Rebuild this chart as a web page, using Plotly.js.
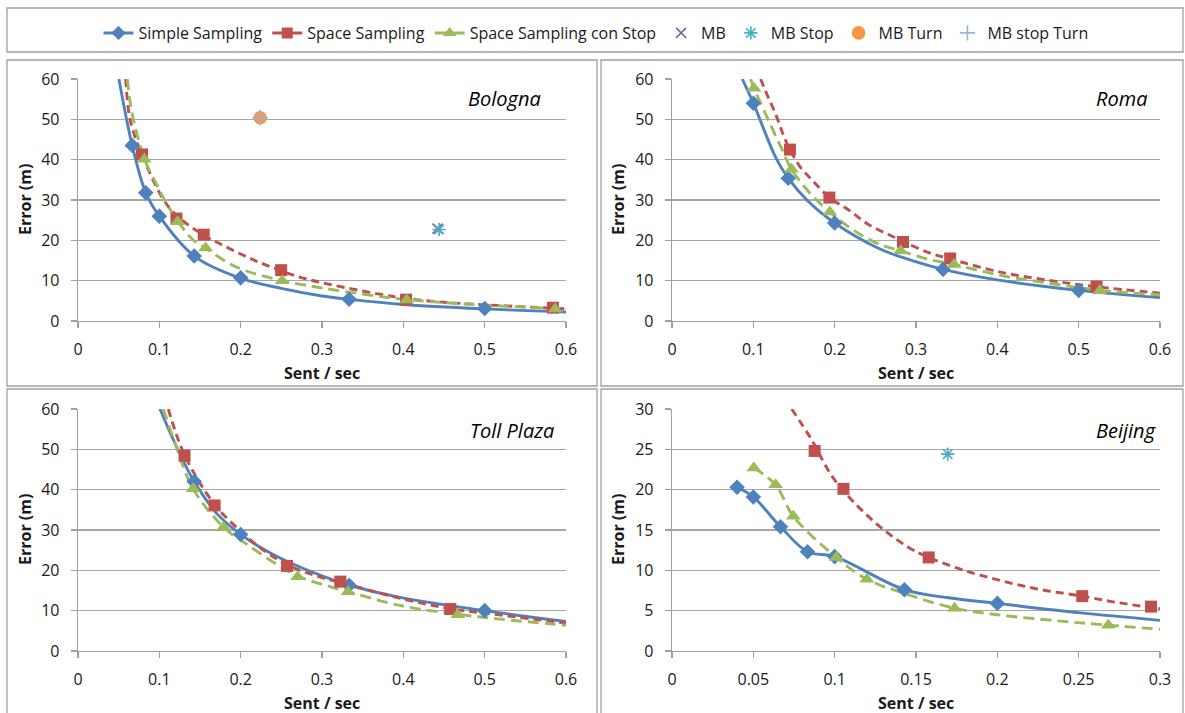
<!DOCTYPE html>
<html><head><meta charset="utf-8">
<script src="https://cdn.plot.ly/plotly-3.0.1.min.js"></script>
<style>html,body{margin:0;padding:0;background:#fff}#chart{width:1185px;height:713px}</style>
</head><body><div id="chart"></div>
<script>
// ---------- Bologna ----------
const bolSimpleX = [0.0667, 0.0833, 0.1, 0.1429, 0.2, 0.3333, 0.5];
const bolSimpleY = [43.5, 31.8, 26.0, 16.1, 10.7, 5.4, 3.1];
const bolSimpleCurveX = [0.0503, 0.0667, 0.0833, 0.1, 0.1429, 0.2, 0.25, 0.3, 0.3333, 0.4, 0.5, 0.6];
const bolSimpleCurveY = [60, 43.5, 31.8, 26.0, 16.1, 10.6, 8.1, 6.2, 5.4, 4.1, 3.0, 2.25];
const bolSpaceX = [0.0787, 0.1211, 0.1546, 0.2498, 0.4034, 0.5839];
const bolSpaceY = [41.3, 25.4, 21.4, 12.6, 5.3, 3.3];
const bolSpaceCurveX = [0.0587, 0.064, 0.078, 0.1054, 0.121, 0.155, 0.174, 0.2033, 0.232, 0.2724, 0.3136, 0.367, 0.403, 0.453, 0.502, 0.56, 0.6];
const bolSpaceCurveY = [60, 50, 41.5, 30, 26.2, 21.2, 19.2, 16.3, 13.8, 10.9, 8.9, 6.8, 5.6, 4.6, 4.0, 3.4, 3.0];
const bolStopX = [0.0815, 0.1225, 0.157, 0.251, 0.404, 0.5867];
const bolStopY = [40.1, 24.6, 18.1, 10.0, 5.2, 3.0];
const bolStopCurveX = [0.0607, 0.066, 0.0815, 0.095, 0.108, 0.1225, 0.141, 0.157, 0.183, 0.207, 0.251, 0.285, 0.3136, 0.367, 0.404, 0.478, 0.5867, 0.6];
const bolStopCurveY = [60, 52, 40.3, 34.5, 29.5, 24.8, 20.2, 18.1, 14.6, 12.4, 10.0, 8.7, 7.75, 6.2, 5.3, 4.2, 3.1, 3.0];
const bolMB = {x: [0.442], y: [22.9]};
const bolMBStop = {x: [0.444], y: [22.7]};
const bolMBTurn = {x: [0.224], y: [50.4]};
const bolMBStopTurn = {x: [0.224], y: [50.4]};

// ---------- Roma ----------
const romaSimpleX = [0.1, 0.1429, 0.2, 0.3333, 0.5];
const romaSimpleY = [54.0, 35.4, 24.3, 12.8, 7.6];
const romaSimpleCurveX = [0.0864, 0.1, 0.1276, 0.1429, 0.1667, 0.2, 0.253, 0.2815, 0.3333, 0.4, 0.5, 0.6];
const romaSimpleCurveY = [60, 54, 40.5, 35.4, 29.8, 24.3, 18.1, 15.9, 12.8, 10.2, 7.6, 5.8];
const romaSpaceX = [0.145, 0.1935, 0.284, 0.342, 0.522];
const romaSpaceY = [42.5, 30.6, 19.6, 15.5, 8.5];
const romaSpaceCurveX = [0.109, 0.115, 0.1276, 0.136, 0.145, 0.158, 0.173, 0.1935, 0.216, 0.241, 0.274, 0.284, 0.315, 0.342, 0.404, 0.466, 0.522, 0.6];
const romaSpaceCurveY = [60, 57, 51.2, 46.6, 42.5, 38.1, 34.8, 30.6, 27.7, 24.0, 20.7, 19.7, 17.0, 15.4, 12.1, 10.0, 8.5, 6.9];
const romaStopX = [0.1008, 0.147, 0.194, 0.281, 0.347, 0.526];
const romaStopY = [57.7, 37.6, 27.0, 17.4, 14.0, 7.5];
const romaStopCurveX = [0.0967, 0.1008, 0.113, 0.134, 0.147, 0.167, 0.194, 0.224, 0.253, 0.281, 0.315, 0.347, 0.404, 0.466, 0.526, 0.6];
const romaStopCurveY = [60, 57.7, 52.2, 43.1, 37.6, 32.3, 27.0, 22.4, 19.2, 17.4, 15.3, 14.0, 11.3, 9.3, 7.6, 6.5];

// ---------- Toll Plaza ----------
const tollSimpleX = [0.1429, 0.2, 0.3333, 0.5];
const tollSimpleY = [42.0, 28.9, 16.3, 10.0];
const tollSimpleCurveX = [0.1008, 0.1235, 0.1429, 0.171, 0.2, 0.232, 0.265, 0.311, 0.3333, 0.3955, 0.5, 0.6];
const tollSimpleCurveY = [60, 49.6, 42.0, 34.0, 28.9, 24.8, 21.5, 17.8, 16.3, 13.3, 10.0, 7.3];
const tollSpaceX = [0.131, 0.168, 0.257, 0.3225, 0.4578];
const tollSpaceY = [48.4, 36.1, 21.1, 17.2, 10.4];
const tollSpaceCurveX = [0.111, 0.131, 0.168, 0.2, 0.224, 0.257, 0.298, 0.3225, 0.3955, 0.4578, 0.52, 0.6];
const tollSpaceCurveY = [60, 48.6, 36.3, 29.7, 25.6, 21.4, 18.3, 17.0, 13.1, 10.5, 8.9, 6.9];
const tollStopX = [0.1415, 0.179, 0.27, 0.332, 0.467];
const tollStopY = [40.2, 30.7, 18.4, 14.7, 9.0];
const tollStopCurveX = [0.105, 0.121, 0.1415, 0.179, 0.208, 0.245, 0.27, 0.311, 0.332, 0.3955, 0.467, 0.519, 0.6];
const tollStopCurveY = [60, 50.5, 40.2, 30.7, 26.4, 21.4, 18.6, 15.9, 14.7, 11.3, 9.1, 7.9, 6.4];

// ---------- Beijing ----------
const beiSimpleX = [0.04, 0.05, 0.0667, 0.0833, 0.1, 0.1429, 0.2];
const beiSimpleY = [20.3, 19.1, 15.4, 12.3, 11.7, 7.6, 5.9];
const beiSimpleCurveX = [0.04, 0.05, 0.0667, 0.0833, 0.1, 0.1429, 0.17, 0.2, 0.25, 0.3];
const beiSimpleCurveY = [20.3, 19.1, 15.4, 12.3, 11.7, 7.6, 6.6, 5.9, 4.75, 3.8];
const beiSpaceX = [0.0877, 0.1054, 0.1578, 0.2522, 0.2945];
const beiSpaceY = [24.8, 20.1, 11.6, 6.8, 5.5];
const beiSpaceCurveX = [0.0736, 0.0855, 0.1, 0.1244, 0.145, 0.1578, 0.178, 0.2025, 0.227, 0.2522, 0.274, 0.3];
const beiSpaceCurveY = [30, 26.3, 21.2, 16.0, 12.9, 11.6, 10.1, 8.7, 7.6, 6.8, 6.0, 5.25];
const beiStopX = [0.0503, 0.0637, 0.0746, 0.101, 0.1198, 0.1737, 0.2682];
const beiStopY = [22.7, 20.6, 16.7, 11.6, 8.9, 5.3, 3.2];
const beiStopCurveX = [0.0503, 0.0637, 0.0746, 0.101, 0.1198, 0.145, 0.1737, 0.2, 0.239, 0.2682, 0.3];
const beiStopCurveY = [22.7, 20.6, 16.7, 11.6, 8.9, 7.0, 5.3, 4.5, 3.7, 3.2, 2.7];
const beiMBStop = {x: [0.1695], y: [24.4]};

// ---------- labels ----------
const seriesNames = ['Simple Sampling', 'Space Sampling', 'Space Sampling con Stop', 'MB', 'MB Stop', 'MB Turn', 'MB stop Turn'];
const panelNames = ['Bologna', 'Roma', 'Toll Plaza', 'Beijing'];
const xTitle = 'Sent / sec';
const yTitle = 'Error (m)';

// ---------- styles ----------
const W = 1185, H = 713;
const FONT = 'Open Sans, Lato, sans-serif';
const lineStyles = [
  {color: '#4F81BD', symbol: 'diamond', size: 12, dash: 'solid'},
  {color: '#C0504D', symbol: 'square', size: 12, dash: '8px,5px'},
  {color: '#9BBB59', symbol: 'triangle-up', size: 13, dash: '11px,6px'}
];
const mbStyles = [
  {color: '#8064A2', symbol: 'x-thin-open', size: 10},
  {color: '#4BACC6', symbol: 'asterisk-open', size: 11},
  {color: '#F79646', symbol: 'circle', size: 12},
  {color: '#95B3D7', symbol: 'cross-thin-open', size: 11}
];
const px = v => v / W;
const py = v => 1 - v / H;

const panels = [
  {ax: ['x', 'y'], sets: [[bolSimpleX, bolSimpleY, bolSimpleCurveX, bolSimpleCurveY], [bolSpaceX, bolSpaceY, bolSpaceCurveX, bolSpaceCurveY], [bolStopX, bolStopY, bolStopCurveX, bolStopCurveY]],
   mb: [bolMB, bolMBStop, bolMBTurn, bolMBStopTurn]},
  {ax: ['x2', 'y2'], sets: [[romaSimpleX, romaSimpleY, romaSimpleCurveX, romaSimpleCurveY], [romaSpaceX, romaSpaceY, romaSpaceCurveX, romaSpaceCurveY], [romaStopX, romaStopY, romaStopCurveX, romaStopCurveY]],
   mb: [null, null, null, null]},
  {ax: ['x3', 'y3'], sets: [[tollSimpleX, tollSimpleY, tollSimpleCurveX, tollSimpleCurveY], [tollSpaceX, tollSpaceY, tollSpaceCurveX, tollSpaceCurveY], [tollStopX, tollStopY, tollStopCurveX, tollStopCurveY]],
   mb: [null, null, null, null]},
  {ax: ['x4', 'y4'], sets: [[beiSimpleX, beiSimpleY, beiSimpleCurveX, beiSimpleCurveY], [beiSpaceX, beiSpaceY, beiSpaceCurveX, beiSpaceCurveY], [beiStopX, beiStopY, beiStopCurveX, beiStopCurveY]],
   mb: [null, beiMBStop, null, null]}
];

const traces = [];
// legend entries
lineStyles.forEach((s, i) => traces.push({
  x: [null], y: [null], name: seriesNames[i], mode: 'lines+markers', xaxis: 'x', yaxis: 'y',
  line: {color: s.color, width: 3}, marker: {color: s.color, symbol: s.symbol, size: s.size - 1}, showlegend: true
}));
mbStyles.forEach((s, i) => traces.push({
  x: [null], y: [null], name: seriesNames[3 + i], mode: 'markers', xaxis: 'x', yaxis: 'y',
  marker: {color: s.color, symbol: s.symbol, size: s.size, line: {color: s.color, width: 1.6}}, showlegend: true
}));
panels.forEach(p => {
  p.sets.forEach((d, i) => traces.push({
    x: d[2], y: d[3], mode: 'lines', xaxis: p.ax[0], yaxis: p.ax[1], showlegend: false, hoverinfo: 'skip',
    line: {color: lineStyles[i].color, width: 2.9, dash: lineStyles[i].dash, shape: 'spline', smoothing: 1}
  }));
  p.sets.forEach((d, i) => traces.push({
    x: d[0], y: d[1], mode: 'markers', xaxis: p.ax[0], yaxis: p.ax[1], showlegend: false, name: seriesNames[i],
    marker: {color: lineStyles[i].color, symbol: lineStyles[i].symbol, size: lineStyles[i].size}
  }));
  p.mb.forEach((d, i) => { if (d) traces.push({
    x: d.x, y: d.y, mode: 'markers', xaxis: p.ax[0], yaxis: p.ax[1], showlegend: false, name: seriesNames[3 + i],
    marker: {color: mbStyles[i].color, symbol: mbStyles[i].symbol, size: mbStyles[i].size, line: {color: mbStyles[i].color, width: 1.6}}
  }); });
});

const axisCommon = {
  showline: true, linecolor: '#a0a0a0', linewidth: 1.3, ticks: 'outside', ticklen: 6, tickcolor: '#a0a0a0', tickwidth: 1.3,
  zeroline: false, tickfont: {family: FONT, size: 16, color: '#1a1a1a'}, fixedrange: true
};
const xCommon = Object.assign({}, axisCommon, {showgrid: false, ticklabelstandoff: 7});
const yCommon = Object.assign({}, axisCommon, {showgrid: true, gridcolor: '#a6a6a6', gridwidth: 1.3, ticklabelstandoff: 8});
const dLeft = [px(78), px(566)], dRight = [px(672), px(1160)];
const dTop = [py(321), py(79)], dBot = [py(651), py(409)];

const layout = {
  width: W, height: H, margin: {l: 0, r: 0, t: 0, b: 0}, paper_bgcolor: '#fff', plot_bgcolor: '#fff',
  font: {family: FONT, color: '#1a1a1a'},
  showlegend: true,
  legend: {orientation: 'h', x: px(596), xanchor: 'center', y: py(33), yanchor: 'middle', font: {family: FONT, size: 16, color: '#1a1a1a'},
           bgcolor: 'rgba(0,0,0,0)', itemwidth: 30, tracegroupgap: 0},
  xaxis: Object.assign({}, xCommon, {domain: dLeft, anchor: 'y', range: [0, 0.6], dtick: 0.1}),
  yaxis: Object.assign({}, yCommon, {domain: dTop, anchor: 'x', range: [0, 60], dtick: 10}),
  xaxis2: Object.assign({}, xCommon, {domain: dRight, anchor: 'y2', range: [0, 0.6], dtick: 0.1}),
  yaxis2: Object.assign({}, yCommon, {domain: dTop, anchor: 'x2', range: [0, 60], dtick: 10}),
  xaxis3: Object.assign({}, xCommon, {domain: dLeft, anchor: 'y3', range: [0, 0.6], dtick: 0.1}),
  yaxis3: Object.assign({}, yCommon, {domain: dBot, anchor: 'x3', range: [0, 60], dtick: 10}),
  xaxis4: Object.assign({}, xCommon, {domain: dRight, anchor: 'y4', range: [0, 0.3], dtick: 0.05}),
  yaxis4: Object.assign({}, yCommon, {domain: dBot, anchor: 'x4', range: [0, 30], dtick: 5}),
  shapes: [
    {type: 'rect', xref: 'paper', yref: 'paper', x0: px(7), x1: px(1183), y0: py(52), y1: py(8), line: {color: '#a0a0a0', width: 1.3}},
    {type: 'rect', xref: 'paper', yref: 'paper', x0: px(7), x1: px(597), y0: py(386), y1: py(60), line: {color: '#a0a0a0', width: 1.3}},
    {type: 'rect', xref: 'paper', yref: 'paper', x0: px(601), x1: px(1183), y0: py(386), y1: py(60), line: {color: '#a0a0a0', width: 1.3}},
    {type: 'rect', xref: 'paper', yref: 'paper', x0: px(7), x1: px(597), y0: py(720), y1: py(389), line: {color: '#a0a0a0', width: 1.3}},
    {type: 'rect', xref: 'paper', yref: 'paper', x0: px(601), x1: px(1183), y0: py(720), y1: py(389), line: {color: '#a0a0a0', width: 1.3}}
  ],
  annotations: []
};
const titleFont = {family: FONT, size: 16, color: '#1a1a1a', weight: 'bold'};
[[25, 200], [618, 200], [25, 530], [618, 530]].forEach(c => layout.annotations.push({
  text: '<b>' + yTitle + '</b>', xref: 'paper', yref: 'paper', x: px(c[0]), y: py(c[1]), xanchor: 'center', yanchor: 'middle',
  textangle: -90, showarrow: false, font: titleFont
}));
[[322, 373], [916, 373], [322, 703], [916, 703]].forEach(c => layout.annotations.push({
  text: '<b>' + xTitle + '</b>', xref: 'paper', yref: 'paper', x: px(c[0]), y: py(c[1]), xanchor: 'center', yanchor: 'middle',
  showarrow: false, font: titleFont
}));
[[543, 99], [1149, 99], [556, 430], [1158, 430]].forEach((c, i) => layout.annotations.push({
  text: '<i>' + panelNames[i] + '</i>', xref: 'paper', yref: 'paper', x: px(c[0]), y: py(c[1]), xanchor: 'right', yanchor: 'middle',
  showarrow: false, font: {family: FONT, size: 20, color: '#000', style: 'italic'}
}));

Plotly.newPlot('chart', traces, layout, {displayModeBar: false, staticPlot: true});
</script></body></html>
